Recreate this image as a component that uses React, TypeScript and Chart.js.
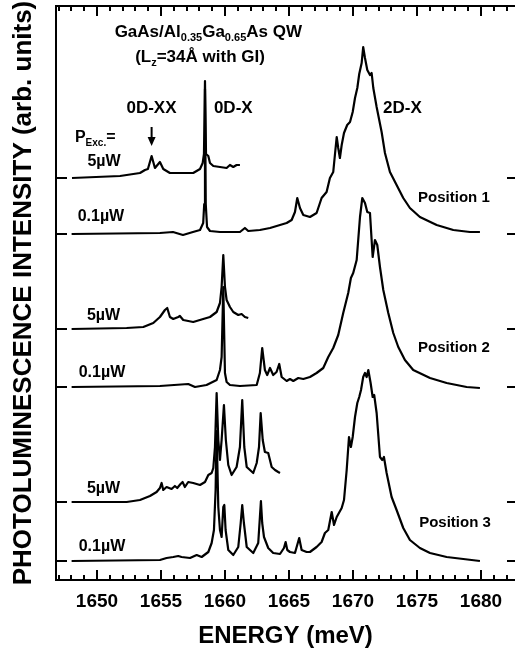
import React, { useEffect, useRef } from 'react';
import { Chart, registerables } from 'chart.js';

Chart.register(...registerables);

const FONT = '"Liberation Sans", Arial, Helvetica, sans-serif';

// Energy axis (meV)
const X_MIN = 1646.8;
const X_MAX = 1682.66;
const energyTicks = [1650, 1655, 1660, 1665, 1670, 1675, 1680];
const MINOR_STEP = 1;

// Intensity axis (arb. units)
const Y_MIN = 0;
const Y_MAX = 574;

// Vertical offsets of each spectrum (order: P1 5µW, P1 0.1µW, P2 5µW, P2 0.1µW, P3 5µW, P3 0.1µW)
const baselineOffsets = [402, 346, 251, 193, 78, 19];

// [energy (meV), intensity above its baseline]
const pos1High: [number, number][] = [
  [1648.05, 0], [1651.8, 2], [1653.36, 5], [1653.75, 8], [1653.98, 9], [1654.27, 22],
  [1654.53, 10], [1654.92, 16], [1655.18, 9], [1655.7, 5], [1656.48, 5], [1657.52, 5],
  [1658.05, 9], [1658.26, 15], [1658.36, 24], [1658.44, 97], [1658.52, 24], [1658.7, 22],
  [1658.83, 15], [1659.09, 12], [1659.61, 11], [1660.13, 10], [1660.39, 13], [1660.65, 11],
  [1660.91, 13], [1661.17, 13],
];

const pos1Low: [number, number][] = [
  [1648.02, 0], [1654.92, 1], [1655.94, 2], [1656.72, -1], [1657.5, 2], [1658.05, 4],
  [1658.3, 11], [1658.38, 30], [1658.44, 145], [1658.5, 30], [1658.6, 7], [1658.83, 3],
  [1659.61, 2], [1661.17, 2], [1661.56, 6], [1661.82, 3], [1662.73, 4], [1663.52, 6],
  [1664.3, 9], [1664.82, 11], [1665.21, 14], [1665.47, 22], [1665.65, 36], [1665.86, 26],
  [1666.12, 19], [1666.64, 17], [1667.16, 21], [1667.55, 36], [1667.94, 42], [1668.2, 56],
  [1668.46, 62], [1668.59, 79], [1668.73, 97], [1668.85, 86], [1668.98, 76], [1669.12, 89],
  [1669.3, 101], [1669.55, 109], [1669.77, 112], [1669.98, 122], [1670.16, 136], [1670.34, 146],
  [1670.49, 160], [1670.68, 171], [1670.8, 187], [1670.94, 176], [1671.12, 164], [1671.33, 159],
  [1671.46, 161], [1671.59, 146], [1671.85, 127], [1672.24, 102], [1672.5, 81], [1672.89, 62],
  [1673.41, 49], [1673.93, 36], [1674.45, 26], [1675.23, 17], [1676.54, 9], [1677.84, 4],
  [1679.14, 2], [1679.92, 2],
];

const pos2High: [number, number][] = [
  [1648.02, 0], [1652.32, 1], [1653.62, 2], [1654.4, 6], [1654.92, 12], [1655.31, 19],
  [1655.49, 21], [1655.7, 12], [1655.96, 10], [1656.35, 12], [1656.48, 13], [1656.74, 9],
  [1657.52, 7], [1658.3, 10], [1658.83, 12], [1659.35, 17], [1659.61, 26], [1659.74, 42],
  [1659.87, 74], [1660.0, 42], [1660.13, 29], [1660.39, 22], [1660.65, 17], [1661.04, 14],
  [1661.3, 15], [1661.56, 12], [1661.82, 11],
];

const pos2Low: [number, number][] = [
  [1648.02, 0], [1654.92, 1], [1657.13, 3], [1657.66, 0], [1658.56, 2], [1659.35, 7],
  [1659.61, 17], [1659.74, 30], [1659.87, 100], [1660.0, 14], [1660.13, 5], [1660.39, 2],
  [1661.17, 1], [1662.48, 2], [1662.73, 14], [1662.91, 39], [1663.12, 17], [1663.3, 12],
  [1663.52, 19], [1663.77, 12], [1664.03, 15], [1664.24, 23], [1664.43, 10], [1664.82, 6],
  [1665.08, 8], [1665.34, 6], [1665.73, 9], [1666.12, 8], [1666.64, 10], [1667.16, 14],
  [1667.68, 19], [1668.07, 30], [1668.46, 39], [1668.85, 52], [1669.24, 74], [1669.63, 94],
  [1669.84, 109], [1670.02, 114], [1670.29, 127], [1670.55, 170], [1670.73, 189], [1670.94, 184],
  [1671.12, 175], [1671.33, 174], [1671.54, 130], [1671.72, 147], [1671.9, 142], [1672.11, 120],
  [1672.37, 97], [1672.76, 74], [1673.15, 54], [1673.54, 40], [1674.06, 27], [1674.71, 17],
  [1676.02, 9], [1677.32, 4], [1678.88, 0], [1679.92, -1],
];

const pos3High: [number, number][] = [
  [1648.02, 0], [1652.32, 0], [1653.36, 2], [1654.14, 6], [1654.66, 10], [1654.92, 14],
  [1655.05, 19], [1655.18, 12], [1655.44, 15], [1655.83, 13], [1656.09, 16], [1656.27, 14],
  [1656.53, 18], [1656.69, 20], [1656.87, 15], [1657.13, 20], [1657.52, 19], [1658.05, 17],
  [1658.44, 20], [1658.7, 27], [1658.96, 29], [1659.09, 34], [1659.22, 55], [1659.35, 109],
  [1659.48, 62], [1659.61, 42], [1659.74, 62], [1659.92, 97], [1660.07, 62], [1660.26, 37],
  [1660.52, 27], [1660.91, 35], [1661.17, 55], [1661.35, 102], [1661.51, 55], [1661.7, 35],
  [1662.21, 29], [1662.48, 39], [1662.66, 55], [1662.79, 89], [1662.95, 62], [1663.12, 50],
  [1663.38, 49], [1663.65, 35], [1663.91, 32], [1664.16, 30], [1664.3, 29],
];

const pos3Low: [number, number][] = [
  [1648.02, 0], [1654.92, 1], [1655.44, 3], [1655.96, 4], [1656.35, 5], [1656.61, 4],
  [1657.27, 3], [1657.79, 6], [1658.18, 4], [1658.7, 9], [1658.96, 18], [1659.14, 31],
  [1659.27, 71], [1659.35, 130], [1659.48, 54], [1659.61, 31], [1659.74, 24], [1659.87, 54],
  [1659.95, 56], [1660.05, 31], [1660.26, 11], [1660.65, 6], [1661.04, 14], [1661.23, 38],
  [1661.35, 56], [1661.48, 38], [1661.7, 14], [1662.21, 8], [1662.6, 18], [1662.73, 44],
  [1662.81, 60], [1662.91, 38], [1663.05, 24], [1663.38, 13], [1663.77, 8], [1664.3, 7],
  [1664.61, 13], [1664.74, 19], [1664.87, 11], [1665.08, 9], [1665.47, 8], [1665.8, 23],
  [1665.99, 11], [1666.38, 9], [1666.64, 9], [1667.16, 14], [1667.55, 19], [1667.81, 28],
  [1668.07, 31], [1668.34, 49], [1668.52, 36], [1668.73, 44], [1669.12, 53], [1669.3, 61],
  [1669.51, 91], [1669.69, 124], [1669.84, 114], [1669.98, 124], [1670.16, 144], [1670.34, 158],
  [1670.49, 164], [1670.63, 171], [1670.8, 184], [1670.94, 188], [1671.07, 184], [1671.2, 191],
  [1671.38, 178], [1671.54, 164], [1671.66, 166], [1671.85, 148], [1672.11, 104], [1672.29, 101],
  [1672.42, 104], [1672.63, 88], [1673.02, 64], [1673.41, 51], [1673.93, 33], [1674.45, 21],
  [1675.23, 13], [1676.02, 8], [1677.32, 4], [1678.62, 2], [1679.92, 0],
];

const traces = [pos1High, pos1Low, pos2High, pos2Low, pos3High, pos3Low];

type Part = [string, number];
interface Label { parts: Part[]; e: number; v: number; size: number; align: 'left' | 'center'; }

const annotations: Label[] = [
  { parts: [['GaAs/Al', 0], ['0.35', 1], ['Ga', 0], ['0.65', 1], ['As QW', 0]], e: 1658.7, v: 549, size: 17, align: 'center' },
  { parts: [['(L', 0], ['z', 1], ['=34Å with GI)', 0]], e: 1658.05, v: 524, size: 17, align: 'center' },
  { parts: [['0D-XX', 0]], e: 1654.26, v: 473, size: 17, align: 'center' },
  { parts: [['0D-X', 0]], e: 1660.65, v: 473, size: 17, align: 'center' },
  { parts: [['2D-X', 0]], e: 1673.87, v: 473, size: 17, align: 'center' },
  { parts: [['P', 0], ['Exc.', 1], ['=', 0]], e: 1648.28, v: 444, size: 16, align: 'left' },
  { parts: [['5µW', 0]], e: 1650.55, v: 420, size: 16, align: 'center' },
  { parts: [['0.1µW', 0]], e: 1650.31, v: 365, size: 16, align: 'center' },
  { parts: [['Position 1', 0]], e: 1677.89, v: 383, size: 15, align: 'center' },
  { parts: [['5µW', 0]], e: 1650.51, v: 266, size: 16, align: 'center' },
  { parts: [['0.1µW', 0]], e: 1650.39, v: 209, size: 16, align: 'center' },
  { parts: [['Position 2', 0]], e: 1677.89, v: 233, size: 15, align: 'center' },
  { parts: [['5µW', 0]], e: 1650.51, v: 93, size: 16, align: 'center' },
  { parts: [['0.1µW', 0]], e: 1650.39, v: 35, size: 16, align: 'center' },
  { parts: [['Position 3', 0]], e: 1677.97, v: 58, size: 15, align: 'center' },
];

// arrow marking the 0D-XX line
const arrow = { e: 1654.27, from: 453, to: 434 };

const framePlugin = {
  id: 'frame',
  afterDatasetsDraw(chart: any) {
    const { ctx, chartArea, scales } = chart;
    const { left, right, top, bottom } = chartArea;
    const x = scales.x;
    const y = scales.y;
    ctx.save();
    ctx.strokeStyle = '#000';
    ctx.lineWidth = 2;
    ctx.lineCap = 'butt';
    ctx.beginPath();
    ctx.moveTo(right + 2, top);
    ctx.lineTo(left, top);
    ctx.lineTo(left, bottom);
    ctx.lineTo(right + 2, bottom);
    ctx.stroke();
    ctx.beginPath();
    for (let v = Math.ceil(x.min); v <= x.max; v += MINOR_STEP) {
      const px = Math.round(x.getPixelForValue(v));
      const major = energyTicks.includes(v);
      const len = major ? 10 : 5;
      ctx.moveTo(px, bottom);
      ctx.lineTo(px, bottom - len);
      ctx.moveTo(px, top);
      ctx.lineTo(px, top + len);
    }
    y.ticks.forEach((t: any) => {
      const py = Math.round(y.getPixelForValue(t.value));
      ctx.moveTo(left, py);
      ctx.lineTo(left + 11, py);
      ctx.moveTo(right - 8, py);
      ctx.lineTo(right, py);
    });
    ctx.stroke();
    ctx.restore();
  },
};

const annotationPlugin = {
  id: 'annotations',
  afterDraw(chart: any) {
    const { ctx, scales } = chart;
    const x = scales.x;
    const y = scales.y;
    ctx.save();
    ctx.fillStyle = '#000';
    ctx.textBaseline = 'alphabetic';
    ctx.textAlign = 'left';
    annotations.forEach((a) => {
      const fontFor = (sub: number) => `bold ${sub ? Math.round(a.size * 0.62) : a.size}px ${FONT}`;
      let w = 0;
      a.parts.forEach(([t, sub]) => {
        ctx.font = fontFor(sub);
        w += ctx.measureText(t).width;
      });
      let px = x.getPixelForValue(a.e);
      if (a.align === 'center') px -= w / 2;
      const base = y.getPixelForValue(a.v) + a.size * 0.36;
      a.parts.forEach(([t, sub]) => {
        ctx.font = fontFor(sub);
        ctx.fillText(t, px, sub ? base + a.size * 0.24 : base);
        px += ctx.measureText(t).width;
      });
    });
    const ax = x.getPixelForValue(arrow.e);
    const ay1 = y.getPixelForValue(arrow.from);
    const ay2 = y.getPixelForValue(arrow.to);
    ctx.strokeStyle = '#000';
    ctx.lineWidth = 2;
    ctx.beginPath();
    ctx.moveTo(ax, ay1);
    ctx.lineTo(ax, ay2 - 7);
    ctx.stroke();
    ctx.beginPath();
    ctx.moveTo(ax - 4, ay2 - 9);
    ctx.lineTo(ax + 4, ay2 - 9);
    ctx.lineTo(ax, ay2);
    ctx.closePath();
    ctx.fill();
    ctx.restore();
  },
};

export default function App() {
  const ref = useRef<HTMLCanvasElement>(null);
  useEffect(() => {
    const canvas = ref.current;
    if (!canvas) return;
    const datasets = traces.map((t, i) => ({
      data: t.map(([e, v]) => ({ x: e, y: v + baselineOffsets[i] })),
      borderColor: '#000',
      borderWidth: 2.2,
      pointRadius: 0,
      fill: false,
      tension: 0,
      borderJoinStyle: 'round' as const,
    }));
    const chart = new Chart(canvas, {
      type: 'line',
      data: { datasets },
      options: {
        animation: false,
        responsive: false,
        devicePixelRatio: 1,
        layout: { padding: { top: 6, left: 0, right: 0, bottom: 0 } },
        plugins: { legend: { display: false }, tooltip: { enabled: false } },
        scales: {
          x: {
            type: 'linear',
            min: X_MIN,
            max: X_MAX,
            grid: { display: false, drawTicks: false },
            border: { display: false },
            ticks: {
              color: '#000',
              font: { family: FONT, size: 19, weight: 'bold' },
              padding: 10,
              maxRotation: 0,
              autoSkip: false,
              includeBounds: false,
              callback: (v: any) => String(v),
            },
            afterBuildTicks: (s: any) => {
              s.ticks = energyTicks.map((v) => ({ value: v }));
            },
            afterFit: (s: any) => {
              s.height = 73;
            },
            title: {
              display: true,
              text: 'ENERGY (meV)',
              color: '#000',
              font: { family: FONT, size: 24, weight: 'bold' },
              padding: { top: 0, bottom: 2 },
            },
          },
          y: {
            type: 'linear',
            min: Y_MIN,
            max: Y_MAX,
            grid: { display: false, drawTicks: false },
            border: { display: false },
            ticks: { display: false },
            afterBuildTicks: (s: any) => {
              s.ticks = baselineOffsets.map((v) => ({ value: v }));
            },
            afterFit: (s: any) => {
              s.width = 56;
            },
            title: {
              display: true,
              text: 'PHOTOLUMINESCENCE INTENSITY (arb. units)',
              color: '#000',
              font: { family: FONT, size: 26, weight: 'bold' },
              padding: { top: 8, bottom: 0 },
            },
          },
        },
      },
      plugins: [framePlugin, annotationPlugin],
    });
    return () => chart.destroy();
  }, []);
  return (
    <div style={{ position: 'absolute', left: 0, top: 0, width: 515, height: 653, background: '#fff' }}>
      <canvas ref={ref} width={515} height={653} style={{ display: 'block' }} />
    </div>
  );
}
